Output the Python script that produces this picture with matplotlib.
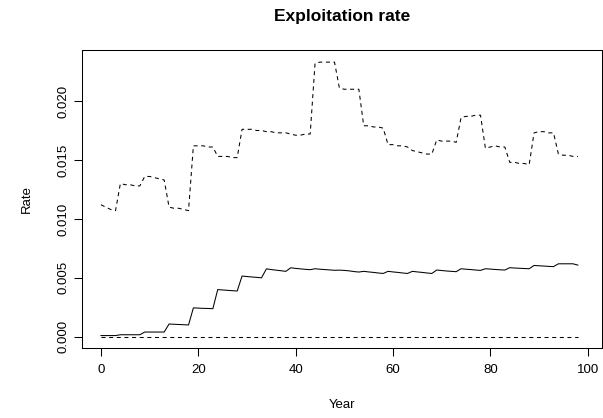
import matplotlib
matplotlib.use('Agg')
import matplotlib.pyplot as plt

# ── Data ──
years = list(range(0, 99))

# upper dashed series
rate_high = [
    0.0112, 0.0110, 0.0108, 0.0107,
    0.0130, 0.0129, 0.0129, 0.0128, 0.0128,
    0.0136, 0.0136, 0.0135, 0.0134, 0.0133,
    0.0110, 0.0109, 0.0109, 0.0108, 0.0107,
    0.0162, 0.0162, 0.0162, 0.0161, 0.0161,
    0.0153, 0.0153, 0.0153, 0.0152, 0.0152,
    0.0176, 0.0176, 0.0176, 0.0175, 0.0175,
    0.0174, 0.0174, 0.0173, 0.0173, 0.0173,
    0.0172, 0.0171, 0.0171, 0.0172, 0.0172,
    0.0232, 0.0233, 0.0233, 0.0233, 0.0233,
    0.0211, 0.0210, 0.0210, 0.0210, 0.0210,
    0.0179, 0.0179, 0.0178, 0.0178, 0.0177,
    0.0163, 0.0163, 0.0162, 0.0162, 0.0161,
    0.0158, 0.0157, 0.0156, 0.0155, 0.0155,
    0.0167, 0.0166, 0.0166, 0.0166, 0.0165,
    0.0186, 0.0187, 0.0187, 0.0188, 0.0188,
    0.0160, 0.0161, 0.0162, 0.0161, 0.0161,
    0.0148, 0.0148, 0.0147, 0.0147, 0.0146,
    0.0173, 0.0174, 0.0174, 0.0173, 0.0173,
    0.0155, 0.0154, 0.0154, 0.0153, 0.0153,
]

# middle solid series
rate_mid = [
    0.0001, 0.0001, 0.0001, 0.0001,
    0.00017, 0.00017, 0.00017, 0.00017, 0.00017,
    0.0004, 0.0004, 0.0004, 0.0004, 0.0004,
    0.00108, 0.00106, 0.00104, 0.00102, 0.0010,
    0.00245, 0.00243, 0.00241, 0.00240, 0.00238,
    0.00400, 0.00397, 0.00394, 0.00391, 0.00388,
    0.00515, 0.00511, 0.00507, 0.00504, 0.00500,
    0.00576, 0.00570, 0.00565, 0.00560, 0.00555,
    0.00585, 0.00580, 0.00576, 0.00572, 0.00569,
    0.00577, 0.00573, 0.00570, 0.00567, 0.00564,
    0.00565, 0.00563, 0.00559, 0.00553, 0.00549,
    0.00555, 0.00550, 0.00546, 0.00541, 0.00537,
    0.00555, 0.00550, 0.00546, 0.00541, 0.00537,
    0.00555, 0.00550, 0.00546, 0.00541, 0.00537,
    0.00566, 0.00562, 0.00558, 0.00555, 0.00552,
    0.00577, 0.00573, 0.00570, 0.00566, 0.00563,
    0.00577, 0.00574, 0.00571, 0.00568, 0.00566,
    0.00586, 0.00583, 0.00581, 0.00579, 0.00577,
    0.00605, 0.00602, 0.00600, 0.00597, 0.00595,
    0.00619, 0.00619, 0.00619, 0.00619, 0.00608,
]

# lower dashed series (zero)
rate_low = [0.0] * 99

x_ticks = [0, 20, 40, 60, 80, 100]
y_ticks = [0.000, 0.005, 0.010, 0.015, 0.020]
y_tick_labels = ['0.000', '0.005', '0.010', '0.015', '0.020']

# ── Style ──
plt.rcParams.update({
    'font.family': ['Liberation Sans', 'DejaVu Sans'],
    'font.size': 9.5,
    'lines.scale_dashes': False,
})

W, H = 603, 418
fig = plt.figure(figsize=(W / 100, H / 100), dpi=100)
left, right, top, bottom = 81.7, 601.7, 50.0, 348.3
ax = fig.add_axes([left / W, (H - bottom) / H, (right - left) / W, (bottom - top) / H])

dash = (0, (2.9, 2.6))
ax.plot(years, rate_high, color='black', linewidth=0.75, linestyle=dash)
ax.plot(years, rate_mid, color='black', linewidth=0.75, linestyle='-')
ax.plot(years, rate_low, color='black', linewidth=0.75, linestyle=dash)

ax.set_xlim(-3.95, 102.9)
ax.set_ylim(-0.00098, 0.02433)

ax.set_xticks(x_ticks)
ax.set_xticklabels([str(v) for v in x_ticks])
ax.set_yticks(y_ticks)
ax.set_yticklabels(y_tick_labels, rotation=90, va='center')

ax.tick_params(axis='both', direction='out', length=5.5, width=0.75,
               color='black', labelsize=9.5)
ax.tick_params(axis='x', pad=5.5)
ax.tick_params(axis='y', pad=3.5)

for s in ax.spines.values():
    s.set_linewidth(0.75)
    s.set_color('black')

fig.text((left + right) / 2 / W, 1 - 17 / H, 'Exploitation rate',
         ha='center', va='center', fontsize=12.5, fontweight='bold')
fig.text((left + right) / 2 / W, 1 - 405 / H, 'Year', ha='center', va='center')
fig.text(27 / W, 1 - 199 / H, 'Rate', ha='center', va='center', rotation=90)

fig.savefig('out.png', dpi=100)
